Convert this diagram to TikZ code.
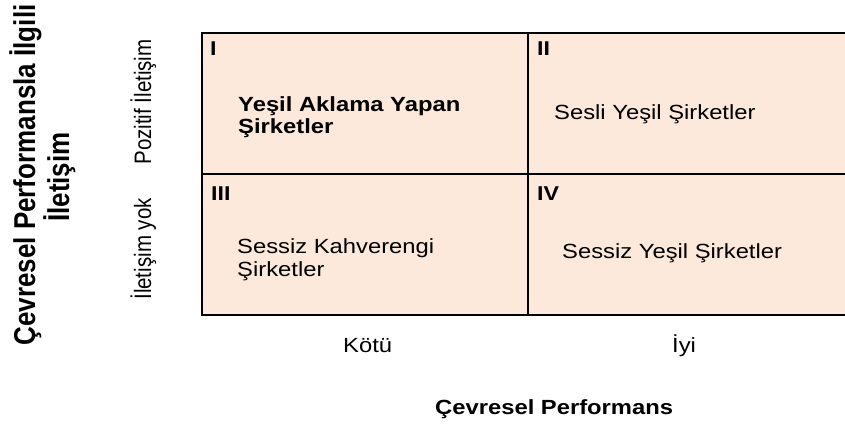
\documentclass[tikz,border=0pt]{standalone}
\usepackage{fontspec}
\setmainfont{Liberation Sans}
\definecolor{cellfill}{RGB}{252,233,219}
\tikzset{
  cell/.style={draw=black, line width=2.2pt, fill=cellfill, inner sep=0pt,
               minimum width=#1, minimum height=141pt, anchor=north west},
  numeral/.style={font=\bfseries\fontsize{20}{22}\selectfont, inner sep=0pt,
                  anchor=base west, xscale=1.16},
  label/.style={font=\fontsize{20.5}{22}\selectfont, inner sep=0pt,
                anchor=base west, xscale=1.16},
  boldlabel/.style={label, font=\bfseries\fontsize{20.5}{22}\selectfont},
  vlabel/.style={font=\fontsize{20.5}{22}\selectfont, inner sep=0pt,
                 anchor=base, xscale=1.16, rotate=90},
  vtitle/.style={font=\bfseries\fontsize{26}{28}\selectfont, inner sep=0pt,
                 anchor=base, xscale=1.16, rotate=90}
}
\begin{document}
\begin{tikzpicture}[x=1pt, y=-1pt]
\useasboundingbox (0,0) rectangle (845,434);

% four quadrants of the matrix
\node[cell=326pt] (q1) at (201,32) {};
\node[cell=320pt] (q2) at (527,32) {};
\node[cell=326pt] (q3) at (201,173) {};
\node[cell=320pt] (q4) at (527,173) {};

% quadrant numbers
\node[numeral] (n1) at (210,55) {I};
\node[numeral] (n2) at (537,55) {II};
\node[numeral] (n3) at (211,200) {III};
\node[numeral] (n4) at (537,200) {IV};

% quadrant contents
\node[boldlabel] (t1a) at (238,111) {Yeşil Aklama Yapan};
\node[boldlabel] (t1b) at (238,133) {Şirketler};
\node[label] (t2) at (554,119) {Sesli Yeşil Şirketler};
\node[label] (t3a) at (237,253) {Sessiz Kahverengi};
\node[label] (t3b) at (237,276) {Şirketler};
\node[label] (t4) at (562,258) {Sessiz Yeşil Şirketler};

% horizontal axis
\node[label] (kotu) at (343,352) {Kötü};
\node[label] (iyi) at (672,352) {İyi};
\node[boldlabel] (xtitle) at (435,414) {Çevresel Performans};

% vertical axis
\node[vlabel] (pos) at (151,102) {Pozitif İletişim};
\node[vlabel] (none) at (151,249) {İletişim yok};
\node[vtitle] (ytitle1) at (35,175) {Çevresel Performansla İlgili};
\node[vtitle] (ytitle2) at (69,177) {İletişim};
\end{tikzpicture}
\end{document}
